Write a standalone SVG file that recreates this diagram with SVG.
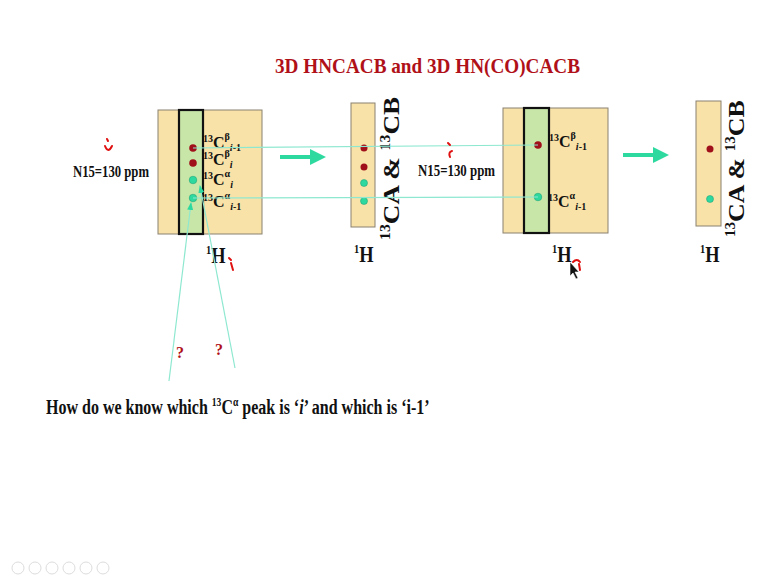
<svg xmlns="http://www.w3.org/2000/svg" width="767" height="576" viewBox="0 0 767 576">
<defs>
<style>
text{font-family:"Liberation Serif","Times New Roman",serif;font-weight:bold;fill:#111}
.title{fill:#b01018;font-size:22px}
.lbl{font-size:16px}
.sup{font-size:10px}
.axis{font-size:23px}
.rot{font-size:24px}
.tan{fill:#f8e2a8;stroke:#8a8070;stroke-width:1}
.strip{fill:#c8e6a8;stroke:#111;stroke-width:2.2}
.red{fill:#a0101a}
.grn{fill:#2ed9a0;stroke:#1a9a70;stroke-width:0.5}
.thin{stroke:#8ee8d0;stroke-width:1.2;fill:none}
.big{stroke:#2ed9a0;stroke-width:4;fill:none}
.q{fill:#b01018;font-size:16px}
.hand{stroke:#e01010;stroke-width:2;fill:none;stroke-linecap:round}
.nav{fill:none;stroke:#ddd;stroke-width:1}
</style>
<marker id="bigArr" markerWidth="4" markerHeight="4" refX="2" refY="2" orient="auto" markerUnits="strokeWidth"><path d="M0,0 L4,2 L0,4 z" fill="#2ed9a0"/></marker>
<marker id="thinArr" markerWidth="8" markerHeight="8" refX="7" refY="4" orient="auto" markerUnits="userSpaceOnUse"><path d="M0,1 L8,4 L0,7 z" fill="#2ed9a0"/></marker>
</defs>
<rect width="767" height="576" fill="#ffffff"/>
<text class="title" x="275" y="73" textLength="305" lengthAdjust="spacingAndGlyphs">3D HNCACB and 3D HN(CO)CACB</text>

<g id="panel1">
<rect class="tan" x="158" y="110" width="104" height="124"/>
<rect class="strip" x="179" y="110" width="24" height="124"/>
<circle class="red" cx="193" cy="148" r="3.8"/>
<circle class="red" cx="193" cy="163" r="3.8"/>
<circle class="grn" cx="193" cy="180" r="3.8"/>
<circle class="grn" cx="193" cy="198" r="3.8"/>
<text class="lbl" x="203" y="148"><tspan class="sup" dy="-6">13</tspan><tspan dy="6">C</tspan><tspan class="sup" dy="-8">β</tspan><tspan class="sup" dy="11" font-style="italic">i</tspan><tspan class="sup">-1</tspan></text>
<text class="lbl" x="203" y="165"><tspan class="sup" dy="-6">13</tspan><tspan dy="6">C</tspan><tspan class="sup" dy="-8">β</tspan><tspan class="sup" dy="11" font-style="italic">i</tspan></text>
<text class="lbl" x="203" y="185"><tspan class="sup" dy="-6">13</tspan><tspan dy="6">C</tspan><tspan class="sup" dy="-8">α</tspan><tspan class="sup" dy="11" font-style="italic">i</tspan></text>
<text class="lbl" x="203" y="207"><tspan class="sup" dy="-6">13</tspan><tspan dy="6">C</tspan><tspan class="sup" dy="-8">α</tspan><tspan class="sup" dy="11" font-style="italic">i</tspan><tspan class="sup">-1</tspan></text>
<text class="lbl" x="73" y="177" textLength="76" lengthAdjust="spacingAndGlyphs">N15=130 ppm</text>
<text class="axis" transform="translate(206,263) scale(0.8,1)"><tspan font-size="13" dy="-9">1</tspan><tspan dy="9">H</tspan></text>
</g>

<g id="strip2">
<rect class="tan" x="351" y="103" width="24" height="124"/>
<circle class="red" cx="364" cy="148" r="3.5"/>
<circle class="red" cx="364" cy="167" r="3.5"/>
<circle class="grn" cx="364" cy="183" r="3.5"/>
<circle class="grn" cx="364" cy="201" r="3.5"/>
<text class="rot" transform="translate(399,240) rotate(-90) scale(1.13,1)"><tspan font-size="14" dy="-9">13</tspan><tspan dy="9">CA &amp; </tspan><tspan font-size="14" dy="-9">13</tspan><tspan dy="9">CB</tspan></text>
<text class="axis" transform="translate(354,262) scale(0.8,1)"><tspan font-size="13" dy="-9">1</tspan><tspan dy="9">H</tspan></text>
</g>

<g id="panel3">
<rect class="tan" x="503" y="108" width="105" height="125"/>
<rect class="strip" x="524" y="108" width="25" height="125"/>
<circle class="red" cx="538" cy="145" r="3.8"/>
<circle class="grn" cx="538" cy="197" r="3.8"/>
<text class="lbl" x="549" y="147"><tspan class="sup" dy="-6">13</tspan><tspan dy="6">C</tspan><tspan class="sup" dy="-8">β</tspan><tspan class="sup" dy="11" font-style="italic">i</tspan><tspan class="sup">-1</tspan></text>
<text class="lbl" x="548" y="207"><tspan class="sup" dy="-6">13</tspan><tspan dy="6">C</tspan><tspan class="sup" dy="-8">α</tspan><tspan class="sup" dy="11" font-style="italic">i</tspan><tspan class="sup">-1</tspan></text>
<text class="lbl" x="418" y="176" textLength="77" lengthAdjust="spacingAndGlyphs">N15=130 ppm</text>
<text class="axis" transform="translate(552,262) scale(0.8,1)"><tspan font-size="13" dy="-9">1</tspan><tspan dy="9">H</tspan></text>
</g>

<g id="strip4">
<rect class="tan" x="696" y="101" width="25" height="125"/>
<circle class="red" cx="710" cy="149" r="3.5"/>
<circle class="grn" cx="710" cy="199" r="3.5"/>
<text class="rot" transform="translate(744,237) rotate(-90) scale(1.08,1)"><tspan font-size="14" dy="-9">13</tspan><tspan dy="9">CA &amp; </tspan><tspan font-size="14" dy="-9">13</tspan><tspan dy="9">CB</tspan></text>
<text class="axis" transform="translate(700,262) scale(0.8,1)"><tspan font-size="13" dy="-9">1</tspan><tspan dy="9">H</tspan></text>
</g>

<g id="connectors">
<line class="big" x1="280" y1="157" x2="318" y2="157" marker-end="url(#bigArr)"/>
<line class="big" x1="623" y1="155" x2="661" y2="155" marker-end="url(#bigArr)"/>
<line class="thin" x1="193" y1="148" x2="538" y2="145"/>
<line class="thin" x1="193" y1="198" x2="538" y2="197"/>
<line class="thin" x1="169" y1="381" x2="191" y2="203" marker-end="url(#thinArr)"/>
<line class="thin" x1="235" y1="368" x2="200" y2="186" marker-end="url(#thinArr)"/>
</g>

<g id="annotations">
<text class="q" x="176" y="358">?</text>
<text class="q" x="215" y="355">?</text>
<path class="hand" d="M107,139 L108,141 M105,146 Q108,154 112,146"/>
<path class="hand" d="M229,258 L231,260 M231,263 L233,270"/>
<path class="hand" d="M448,143 L450,145 M452,151 Q448,152 450,157"/>
<path class="hand" d="M573,262 Q577,258 580,262 M579,264 L580,270"/>
<path d="M570,262 L570,276 L573,273 L576,279 L578,278 L575,272 L579,272 z" fill="#111" stroke="#fff" stroke-width="0.6"/>
</g>

<text font-size="20" transform="translate(46,414) scale(0.8,1)"><tspan>How do we know which </tspan><tspan font-size="12" dy="-8">13</tspan><tspan dy="8">C</tspan><tspan font-size="12" dy="-8">α</tspan><tspan dy="8"> peak is ‘</tspan><tspan font-style="italic">i</tspan><tspan>’ and which is ‘i-1’</tspan></text>

<g id="nav">
<circle class="nav" cx="18" cy="568" r="6"/>
<circle class="nav" cx="35" cy="568" r="6"/>
<circle class="nav" cx="52" cy="568" r="6"/>
<circle class="nav" cx="69" cy="568" r="6"/>
<circle class="nav" cx="86" cy="568" r="6"/>
<circle class="nav" cx="103" cy="568" r="6"/>
</g>
</svg>
